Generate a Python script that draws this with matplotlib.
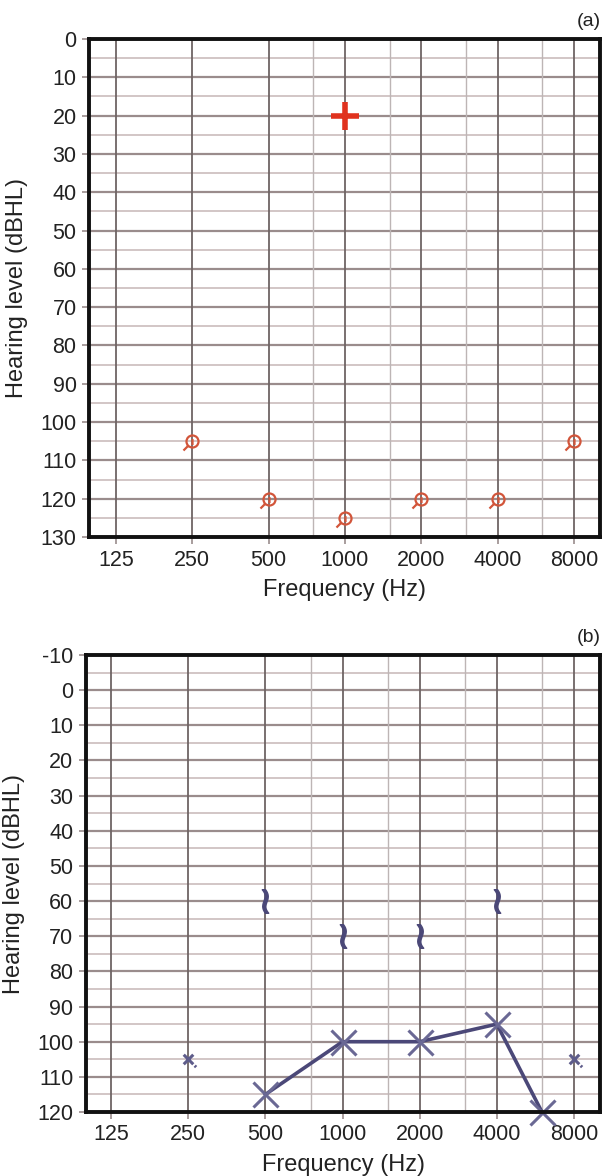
import numpy as np
import matplotlib
matplotlib.use("Agg")
import matplotlib.pyplot as plt
from matplotlib.path import Path

plt.rcParams['font.family'] = ['Liberation Sans', 'DejaVu Sans']
plt.rcParams['axes.unicode_minus'] = False

# audiogram frequencies (Hz)
octave_freqs = [125, 250, 500, 1000, 2000, 4000, 8000]
half_freqs = [750, 1500, 3000, 6000]

# panel (a)
a_plus_freq = [1000]
a_plus_db = [20]
a_nr_freq = [250, 500, 1000, 2000, 4000, 8000]
a_nr_db = [105, 120, 125, 120, 120, 105]

# panel (b)
b_ac_freq = [500, 1000, 2000, 4000, 6000]
b_ac_db = [115, 100, 100, 95, 120]
b_nr_freq = [250, 8000]
b_nr_db = [105, 105]
b_bc_freq = [500, 1000, 2000, 4000]
b_bc_db = [60, 70, 70, 60]

# circle with a small tail (no response)
circ = Path.unit_circle()
tail = Path([(-0.75, -0.75), (-1.5, -1.5), (0, -0.6), (0, 0.4)],
            [Path.MOVETO, Path.LINETO, Path.MOVETO, Path.LINETO])
circle_nr = Path.make_compound_path(circ, tail)
# X with a dot lower right
x_nr = Path([(-1, -1), (1, 1), (-1, 1), (1, -1), (1.3, -1.3), (1.6, -1.6)],
            [Path.MOVETO, Path.LINETO, Path.MOVETO, Path.LINETO, Path.MOVETO, Path.LINETO])


def setup(ax, ylo, yhi, xlo, xhi):
    ax.set_xscale('log', base=2)
    ax.set_xlim(xlo, xhi)
    ax.set_ylim(yhi, ylo)
    for y in range(ylo, yhi + 1, 5):
        if y in (ylo, yhi):
            continue
        if y % 10 == 0:
            ax.axhline(y, color='#9a8c8c', lw=1.6, zorder=1)
        else:
            ax.axhline(y, color='#d2c6c6', lw=1.4, zorder=1)
    for f in half_freqs:
        ax.axvline(f, color='#bdb5b5', lw=1.0, zorder=1)
    for f in octave_freqs:
        ax.axvline(f, color='#6e6464', lw=1.3, zorder=1)
    ax.set_xticks(octave_freqs)
    ax.set_xticklabels([str(f) for f in octave_freqs])
    ax.xaxis.set_minor_locator(matplotlib.ticker.NullLocator())
    ax.set_yticks(range(ylo, yhi + 1, 10))
    ax.tick_params(axis='both', labelsize=15.5, length=5, width=1.2,
                   color='#9a8c8c', labelcolor='#222222', pad=4)
    for s in ax.spines.values():
        s.set_linewidth(2.8)
        s.set_color('#111111')
        s.set_zorder(5)
    ax.set_xlabel('Frequency (Hz)', fontsize=17, color='#222222', labelpad=6)
    ax.set_ylabel('Hearing level (dBHL)', fontsize=17, color='#222222', labelpad=9)


fig = plt.figure(figsize=(6.04, 11.76), dpi=100)

ax1 = fig.add_axes([89 / 604, 1 - 537 / 1176, 511 / 604, 498 / 1176])
setup(ax1, 0, 130, 97.9, 10130)
ax1.plot(a_plus_freq, a_plus_db, linestyle='none', marker='+', ms=20, mew=4,
         color='#e0321e', zorder=4)
ax1.plot(a_nr_freq, a_nr_db, linestyle='none', marker=circle_nr, ms=13, mew=1.6,
         mfc='none', mec='#d2553a', zorder=4)
fig.text(0.995, 1 - 21 / 1176, '(a)', ha='right', va='center', fontsize=14, color='#222222')

ax2 = fig.add_axes([86 / 604, 1 - 1112 / 1176, 514 / 604, 457 / 1176])
setup(ax2, -10, 120, 99.7, 10110)
ax2.plot(b_ac_freq, b_ac_db, color='#4b4878', lw=2.6, marker='x', ms=18, mew=2.2,
         mec='#6a6894', zorder=4, clip_on=False)
ax2.plot(b_nr_freq, b_nr_db, linestyle='none', marker=x_nr, ms=11, mew=2.2,
         color='#5e5c8a', zorder=4)
ax2.plot(b_bc_freq, b_bc_db, linestyle='none', marker=r'$\wr$', ms=17,
         color='#4b4878', zorder=4)
fig.text(0.995, 1 - 638 / 1176, '(b)', ha='right', va='center', fontsize=14, color='#222222')

fig.savefig('out.png', dpi=100)
